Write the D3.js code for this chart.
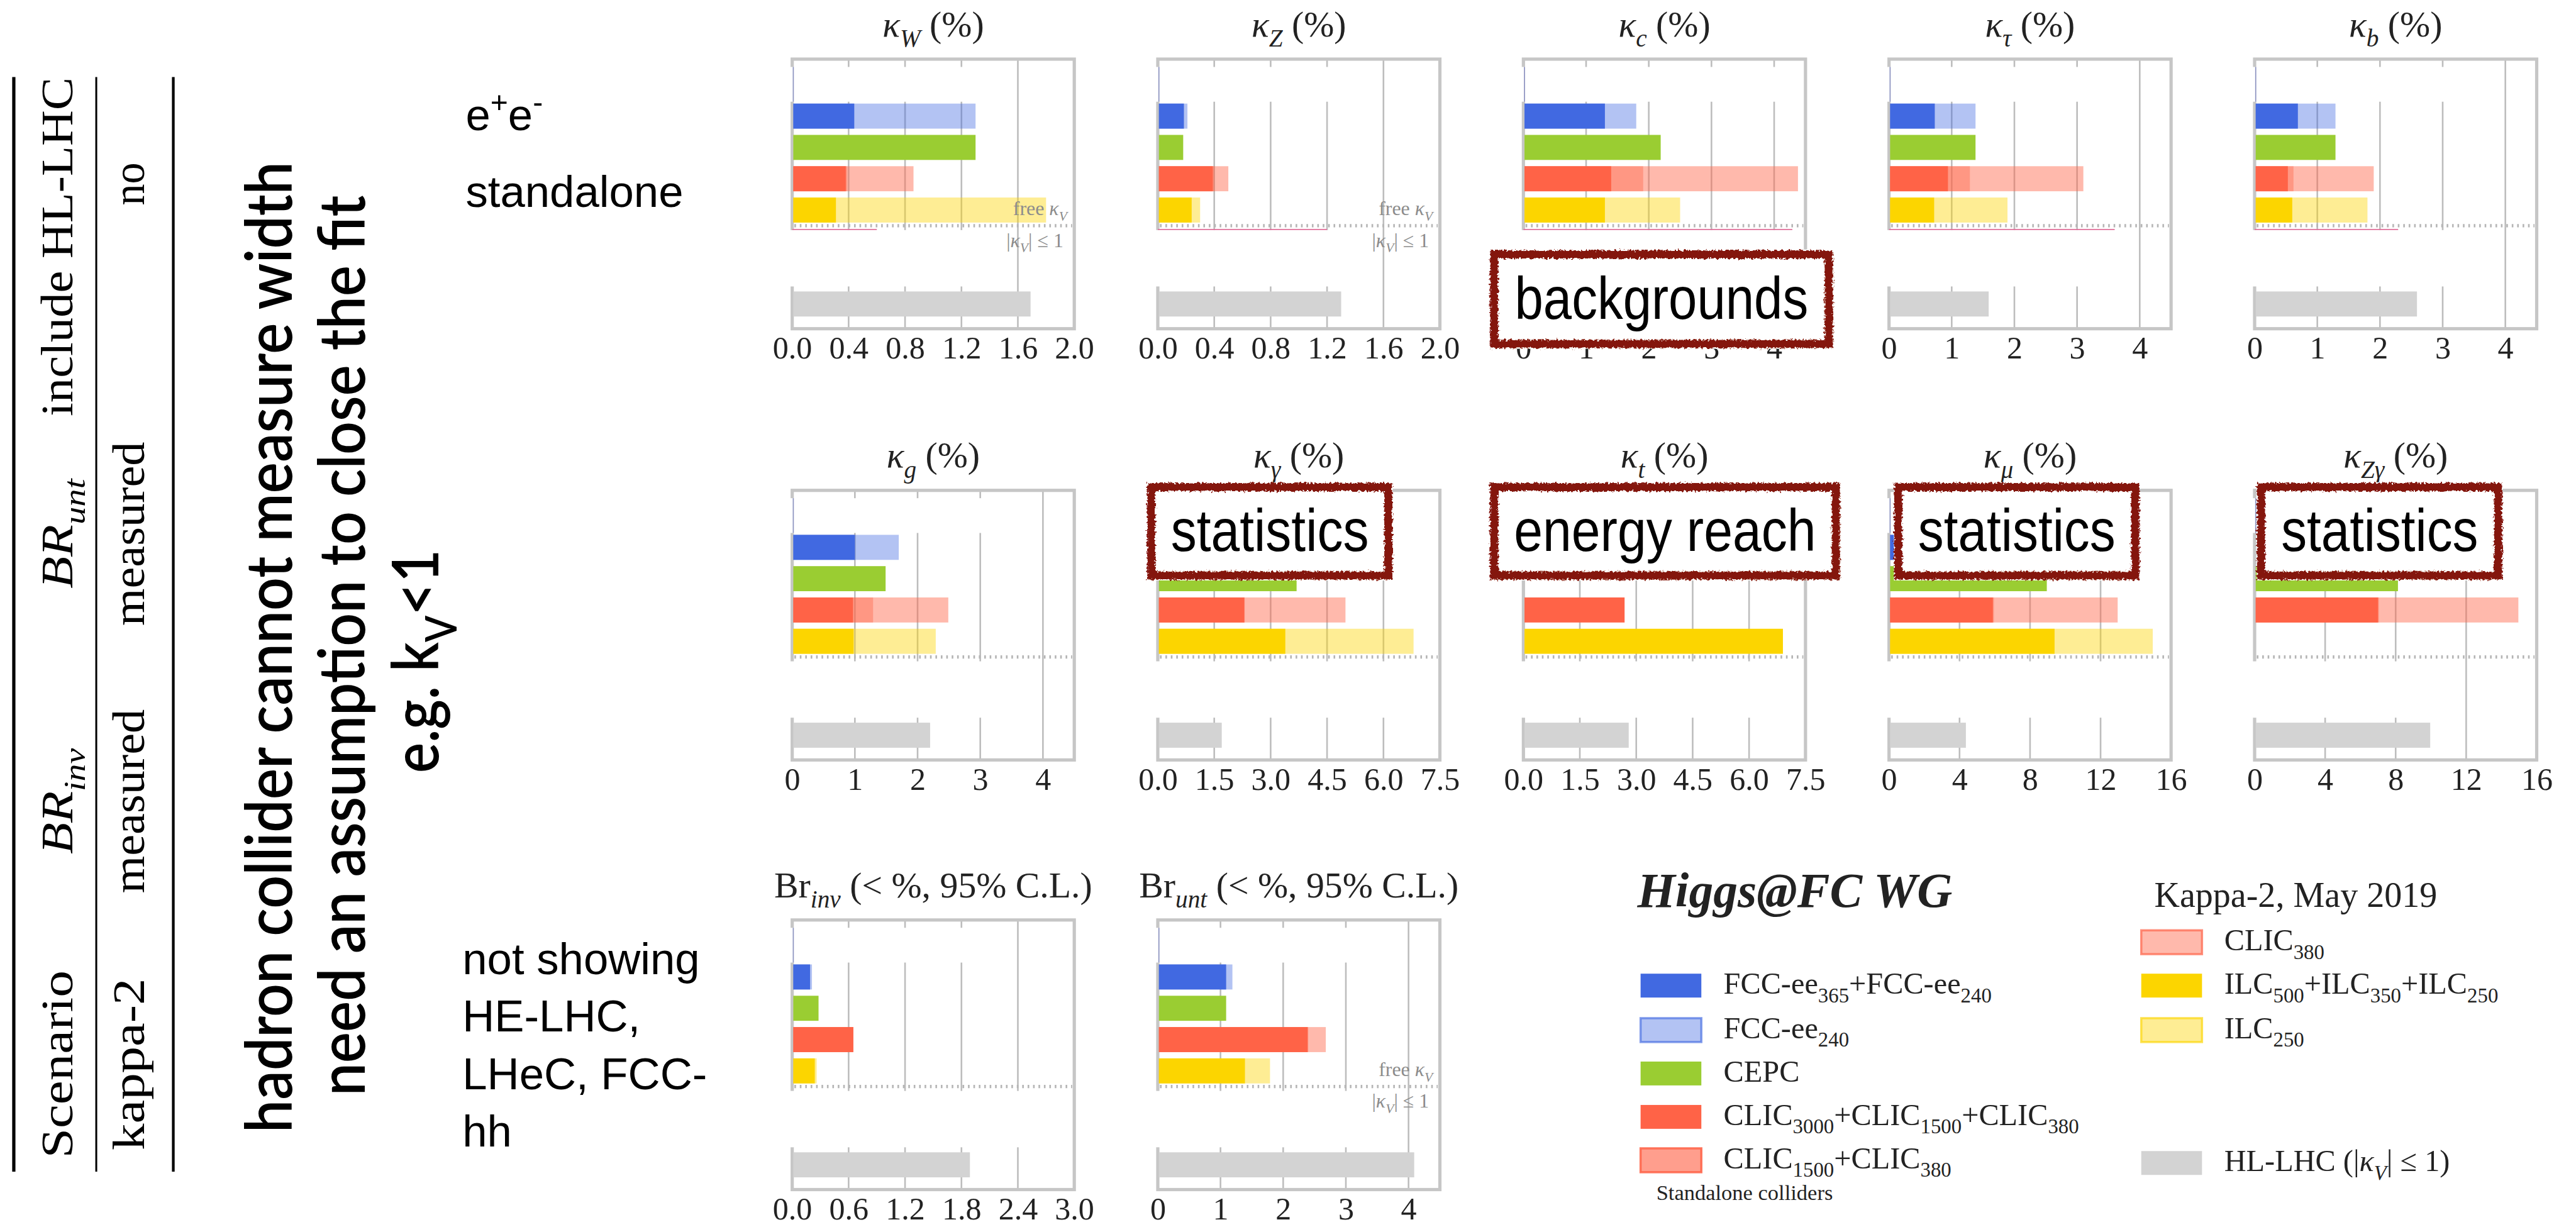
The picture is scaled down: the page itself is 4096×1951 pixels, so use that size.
<!DOCTYPE html>
<html>
<head>
<meta charset="utf-8">
<script src="https://cdn.jsdelivr.net/npm/d3@7"></script>
<style>
  html, body { margin: 0; padding: 0; background: #fff; overflow: hidden; }
</style>
</head>
<body>
<svg id="chart"></svg>
<script>
// ---------------------------------------------------------------
// Kappa-2 coupling precision, standalone e+e- colliders vs HL-LHC
// ---------------------------------------------------------------

// Panel headings: symbol, subscript, tail
const panelHead = ["κ", "κ", "κ", "κ", "κ", "κ", "κ", "κ", "κ", "κ", "Br", "Br"];
const panelSub  = ["W", "Z", "c", "τ", "b", "g", "γ", "t", "μ", "Zγ", "inv", "unt"];
const panelTail = [" (%)", " (%)", " (%)", " (%)", " (%)", " (%)", " (%)", " (%)", " (%)", " (%)",
                   " (< %, 95% C.L.)", " (< %, 95% C.L.)"];

// Axis ranges and tick labels
const axisMax = [2, 2, 4.5, 4.5, 4.5, 4.5, 7.5, 7.5, 16, 16, 3, 4.5];
const tickValues = [
  [0, 0.4, 0.8, 1.2, 1.6, 2.0],
  [0, 0.4, 0.8, 1.2, 1.6, 2.0],
  [0, 1, 2, 3, 4],
  [0, 1, 2, 3, 4],
  [0, 1, 2, 3, 4],
  [0, 1, 2, 3, 4],
  [0, 1.5, 3.0, 4.5, 6.0, 7.5],
  [0, 1.5, 3.0, 4.5, 6.0, 7.5],
  [0, 4, 8, 12, 16],
  [0, 4, 8, 12, 16],
  [0, 0.6, 1.2, 1.8, 2.4, 3.0],
  [0, 1, 2, 3, 4]
];
const tickDigits = [1, 1, 0, 0, 0, 0, 1, 1, 0, 0, 1, 0];

// Precision per collider (same panel order as above); null = not measured
const fccAll   = [0.44, 0.185, 1.30, 0.73, 0.69, 1.00, 3.9, null, 8.9, null, 0.19, 1.09];
const fcc240   = [1.30, 0.21, 1.80, 1.38, 1.29, 1.70, 4.7, null, 10.0, null, 0.21, 1.19];
const cepc     = [1.30, 0.18, 2.19, 1.38, 1.29, 1.49, 3.69, null, 8.95, 8.13, 0.28, 1.09];
const clicAll  = [0.38, 0.39, 1.40, 0.94, 0.53, 0.97, 2.30, 2.69, 5.89, 7.0, 0.65, 2.39];
const clic1500 = [0.39, 0.40, 1.91, 1.29, 0.62, 1.29, 2.31, null, 5.95, 7.05, 0.65, 2.40];
const clic380  = [0.86, 0.50, 4.38, 3.10, 1.90, 2.49, 4.99, null, 12.97, 14.96, 0.65, 2.68];
const ilcAll   = [0.31, 0.24, 1.30, 0.72, 0.60, 0.98, 3.39, 6.90, 9.39, null, 0.24, 1.39];
const ilc250   = [1.80, 0.30, 2.50, 1.89, 1.80, 2.29, 6.80, null, 14.96, null, 0.26, 1.79];
const hlLhc    = [1.69, 1.30, null, 1.59, 2.59, 2.20, 1.70, 2.80, 4.36, 9.96, 1.89, 4.09];

// Extent of the blanked-out rows (other hadron-collider results) per panel
const blankTop = [1.4, 1.4, 4.4, 3.5, 3.5, 3.5, 7.2, 7.2, 15, 15, 2.1, 3.5];
const blankLow = [1.4, 1.4, 4.4, 3.95, 3.05, 3.5, 7.2, 7.3, 15, 10, 2.58, 3.05];
// Leftover edge line just under the separator
const edgeLine = [0.6, 1.2, 4.29, 3.6, 2.29, null, null, null, null, null, null, null];
// Panels carrying the "free κV / |κV| ≤ 1" note
const notePanels = [0, 1, 11];

// ---------------------------------------------------------------
const W = 4748, H = 2262;
const SERIF = "'Liberation Serif','Times New Roman',Times,serif";
const SANS = "'Liberation Sans',Arial,Helvetica,sans-serif";
const NARROW = "'Liberation Sans Narrow','Arial Narrow','Liberation Sans',Arial,sans-serif";
const HUMANIST = "Lato,'Open Sans','Noto Sans',sans-serif";

const svg = d3.select("#chart")
  .attr("width", 4096).attr("height", 1951)
  .attr("viewBox", `0 0 ${W} ${H}`);
svg.append("rect").attr("width", W).attr("height", H).attr("fill", "#fff");

const defs = svg.append("defs");
const rough = defs.append("filter").attr("id", "rough")
  .attr("x", "-5%").attr("y", "-15%").attr("width", "110%").attr("height", "130%");
rough.append("feTurbulence").attr("type", "fractalNoise")
  .attr("baseFrequency", "0.25").attr("numOctaves", 3).attr("seed", 11).attr("result", "noise");
rough.append("feDisplacementMap").attr("in", "SourceGraphic").attr("in2", "noise")
  .attr("scale", 10).attr("xChannelSelector", "R").attr("yChannelSelector", "G");

// Text with sub/superscripts: parts = [{t, sub, sup, it}]
function rich(sel, parts, fs) {
  let shift = 0;
  parts.forEach(p => {
    const target = p.sub ? 0.28 * fs : p.sup ? -0.4 * fs : 0;
    const ts = sel.append("tspan").text(p.t).attr("dy", target - shift);
    if (p.sub || p.sup) ts.attr("font-size", fs * 0.68);
    if (p.it) ts.attr("font-style", "italic");
    shift = target;
  });
}

// ---------------------------------------------------------------
// Panels
const colLeft = [1460, 2134, 2808, 3482, 4156];
const rowTop = [109, 904, 1696];
const PW = 520, PH = 497;

const seriesLayers = [
  { vals: fcc240,   row: 0, color: "#4169e1", op: 0.40 },
  { vals: fccAll,   row: 0, color: "#4169e1", op: 1 },
  { vals: cepc,     row: 1, color: "#9acd32", op: 1 },
  { vals: clic380,  row: 2, color: "#ff6347", op: 0.45 },
  { vals: clic1500, row: 2, color: "#ff6347", op: 0.40 },
  { vals: clicAll,  row: 2, color: "#ff6347", op: 1 },
  { vals: ilc250,   row: 3, color: "#fcd500", op: 0.42 },
  { vals: ilcAll,   row: 3, color: "#fcd500", op: 1 },
  { vals: hlLhc,    row: 6, color: "#d3d3d3", op: 1 }
];

panelSub.forEach((sub, i) => {
  const r = i < 5 ? 0 : (i < 10 ? 1 : 2);
  const c = i < 10 ? i % 5 : i - 10;
  const left = colLeft[c], top = rowTop[r];
  const x = d3.scaleLinear().domain([0, axisMax[i]]).range([left, left + PW]);
  const y = d3.scaleLinear().domain([-1.82, 6.79]).range([top, top + PH]);
  const g = svg.append("g");

  // gridlines
  g.selectAll("line.grid")
    .data(tickValues[i].filter(v => v > 0 && v < axisMax[i] - 1e-9))
    .join("line").attr("class", "grid")
    .attr("x1", d => x(d)).attr("x2", d => x(d))
    .attr("y1", top).attr("y2", top + PH)
    .attr("stroke", "#bdbdbd").attr("stroke-width", 3);

  // frame
  g.append("rect")
    .attr("x", left).attr("y", top).attr("width", PW).attr("height", PH)
    .attr("fill", "none").attr("stroke", "#c6c6c6").attr("stroke-width", 6);

  // blanked rows
  [[-1.57, -0.46, blankTop[i]], [3.64, 5.44, blankLow[i]]].forEach(([a, b, ext]) => {
    g.append("rect")
      .attr("x", left - 5).attr("y", y(a))
      .attr("width", x(ext) - left + 5).attr("height", y(b) - y(a))
      .attr("fill", "#fff");
  });
  g.append("line")
    .attr("x1", left + 2).attr("x2", left + 2)
    .attr("y1", y(-1.57)).attr("y2", y(-0.46))
    .attr("stroke", "#2d3a8c").attr("stroke-width", 2).attr("opacity", 0.55);

  // dotted separator between "free κV" and "|κV| ≤ 1" sections
  g.append("line")
    .attr("x1", left + 4).attr("x2", left + PW - 4)
    .attr("y1", y(3.5)).attr("y2", y(3.5))
    .attr("stroke", "#b5b5b5").attr("stroke-width", 6)
    .attr("stroke-dasharray", "3 7");

  if (edgeLine[i] != null) {
    g.append("line")
      .attr("x1", x(0)).attr("x2", x(edgeLine[i]))
      .attr("y1", y(3.62)).attr("y2", y(3.62))
      .attr("stroke", "#e0709a").attr("stroke-width", 2.2);
  }

  // bars
  seriesLayers.forEach(s => {
    const v = s.vals[i];
    if (v == null) return;
    g.append("rect")
      .attr("x", x(0) + 2).attr("y", y(s.row - 0.4))
      .attr("width", Math.max(0, x(v) - x(0) - 2))
      .attr("height", y(s.row + 0.4) - y(s.row - 0.4))
      .attr("fill", s.color).attr("fill-opacity", s.op);
  });

  // notes
  if (notePanels.includes(i)) {
    const nt = g.append("text")
      .attr("x", left + PW - 13).attr("y", y(3.5) - 19)
      .attr("text-anchor", "end").attr("font-family", SERIF)
      .attr("font-size", 37).attr("fill", "#8c8c8c");
    rich(nt, [{ t: "free " }, { t: "κ", it: true }, { t: "V", sub: true, it: true }], 37);
    const nb = g.append("text")
      .attr("x", left + PW - 20).attr("y", y(3.5) + 39)
      .attr("text-anchor", "end").attr("font-family", SERIF)
      .attr("font-size", 37).attr("fill", "#8c8c8c");
    rich(nb, [{ t: "|" }, { t: "κ", it: true }, { t: "V", sub: true, it: true }, { t: "| ≤ 1" }], 37);
  }

  // x axis
  const axis = d3.axisBottom(x)
    .tickValues(tickValues[i])
    .tickFormat(d => d.toFixed(tickDigits[i]))
    .tickSize(0).tickPadding(14);
  const ax = g.append("g").attr("transform", `translate(0,${top + PH})`).call(axis);
  ax.select(".domain").remove();
  ax.selectAll("text")
    .attr("font-family", SERIF).attr("font-size", 58).attr("fill", "#222");

  // title
  const tt = g.append("text")
    .attr("x", left + PW / 2).attr("y", top - 42)
    .attr("text-anchor", "middle").attr("font-family", SERIF)
    .attr("font-size", 67).attr("fill", "#222");
  const isKappa = panelHead[i] === "κ";
  rich(tt, [
    { t: panelHead[i], it: isKappa },
    { t: sub, sub: true, it: true },
    { t: panelTail[i] }
  ], 67);
});

// ---------------------------------------------------------------
// Stamped remarks
const stamps = [
  { label: "backgrounds",  x0: 2746, x1: 3379, y0: 460, y1: 643, len: 541 },
  { label: "statistics",   x0: 2114, x1: 2567, y0: 889, y1: 1070, len: 365 },
  { label: "energy reach", x0: 2746, x1: 3392, y0: 889, y1: 1070, len: 557 },
  { label: "statistics",   x0: 3491, x1: 3944, y0: 889, y1: 1070, len: 364 },
  { label: "statistics",   x0: 4160, x1: 4613, y0: 889, y1: 1070, len: 363 }
];
stamps.forEach(s => {
  const g = svg.append("g");
  g.append("rect")
    .attr("x", s.x0).attr("y", s.y0).attr("width", s.x1 - s.x0).attr("height", s.y1 - s.y0)
    .attr("fill", "#fff");
  g.append("rect")
    .attr("x", s.x0 + 8).attr("y", s.y0 + 9).attr("width", s.x1 - s.x0 - 16).attr("height", s.y1 - s.y0 - 18)
    .attr("fill", "none").attr("stroke", "#84140a").attr("stroke-width", 15)
    .attr("filter", "url(#rough)");
  g.append("text")
    .attr("x", (s.x0 + s.x1) / 2).attr("y", (s.y0 + s.y1) / 2 + 36)
    .attr("text-anchor", "middle").attr("font-family", NARROW)
    .attr("font-size", 110).attr("fill", "#000")
    .attr("textLength", s.len).attr("lengthAdjust", "spacingAndGlyphs")
    .text(s.label);
});

// ---------------------------------------------------------------
// Scenario table (rotated)
const tableLines = [
  { x: 25, w: 6 }, { x: 177, w: 3.5 }, { x: 319, w: 5 }
];
tableLines.forEach(l => {
  svg.append("line").attr("x1", l.x).attr("x2", l.x).attr("y1", 142).attr("y2", 2160)
    .attr("stroke", "#000").attr("stroke-width", l.w);
});
const tableCells = [
  { x: 133, y: 1962, len: 346, parts: [{ t: "Scenario" }] },
  { x: 133, y: 1477, len: 195, parts: [{ t: "BR", it: true }, { t: "inv", sub: true, it: true }] },
  { x: 133, y: 984,  len: 202, parts: [{ t: "BR", it: true }, { t: "unt", sub: true, it: true }] },
  { x: 133, y: 455,  len: 625, parts: [{ t: "include HL-LHC" }] },
  { x: 265, y: 1962, len: 317, parts: [{ t: "kappa-2" }] },
  { x: 265, y: 1477, len: 339, parts: [{ t: "measured" }] },
  { x: 265, y: 984,  len: 339, parts: [{ t: "measured" }] },
  { x: 265, y: 339,  len: 79,  parts: [{ t: "no" }] }
];
tableCells.forEach(cl => {
  const t = svg.append("text")
    .attr("x", cl.x).attr("y", cl.y)
    .attr("transform", `rotate(-90,${cl.x},${cl.y})`)
    .attr("text-anchor", "middle").attr("font-family", SERIF)
    .attr("font-size", 84).attr("fill", "#000")
    .attr("textLength", cl.len).attr("lengthAdjust", "spacingAndGlyphs");
  rich(t, cl.parts, 84);
});

// Remark on hadron colliders (rotated)
const remarks = [
  { x: 538, y: 1193, len: 1790, parts: [{ t: "hadron collider cannot measure width" }] },
  { x: 672, y: 1190, len: 1660, parts: [{ t: "need an assumption to close the fit" }] },
  { x: 808, y: 1219, len: 412,  parts: [{ t: "e.g. k" }, { t: "V", sub: true }, { t: "<1" }] }
];
remarks.forEach(rm => {
  const t = svg.append("text")
    .attr("x", rm.x).attr("y", rm.y)
    .attr("transform", `rotate(-90,${rm.x},${rm.y})`)
    .attr("text-anchor", "middle").attr("font-family", HUMANIST)
    .attr("font-weight", 600).attr("font-size", 118).attr("fill", "#000")
    .attr("textLength", rm.len).attr("lengthAdjust", "spacingAndGlyphs");
  rich(t, rm.parts, 118);
});

// Row captions
const ee = svg.append("text").attr("x", 858).attr("y", 240)
  .attr("font-family", SANS).attr("font-size", 82).attr("fill", "#000");
rich(ee, [{ t: "e" }, { t: "+", sup: true }, { t: "e" }, { t: "-", sup: true }], 82);
svg.append("text").attr("x", 858).attr("y", 382)
  .attr("font-family", SANS).attr("font-size", 82).attr("fill", "#000").text("standalone");

const notShown = ["not showing", "HE-LHC,", "LHeC, FCC-", "hh"];
svg.append("g").selectAll("text").data(notShown).join("text")
  .attr("x", 852).attr("y", (d, k) => 1796 + k * 106)
  .attr("font-family", SANS).attr("font-size", 82).attr("fill", "#000")
  .text(d => d);

// ---------------------------------------------------------------
// Legend
svg.append("text").attr("x", 3018).attr("y", 1672)
  .attr("font-family", SERIF).attr("font-style", "italic").attr("font-weight", "bold")
  .attr("font-size", 90).attr("fill", "#222").text("Higgs@FC WG");
svg.append("text").attr("x", 3971).attr("y", 1672)
  .attr("font-family", SERIF).attr("font-size", 65).attr("fill", "#222").text("Kappa-2, May 2019");

const legendLabels = [
  [{ t: "FCC-ee" }, { t: "365", sub: true }, { t: "+FCC-ee" }, { t: "240", sub: true }],
  [{ t: "FCC-ee" }, { t: "240", sub: true }],
  [{ t: "CEPC" }],
  [{ t: "CLIC" }, { t: "3000", sub: true }, { t: "+CLIC" }, { t: "1500", sub: true }, { t: "+CLIC" }, { t: "380", sub: true }],
  [{ t: "CLIC" }, { t: "1500", sub: true }, { t: "+CLIC" }, { t: "380", sub: true }],
  [{ t: "CLIC" }, { t: "380", sub: true }],
  [{ t: "ILC" }, { t: "500", sub: true }, { t: "+ILC" }, { t: "350", sub: true }, { t: "+ILC" }, { t: "250", sub: true }],
  [{ t: "ILC" }, { t: "250", sub: true }],
  [{ t: "HL-LHC (|" }, { t: "κ", it: true }, { t: "V", sub: true, it: true }, { t: "| ≤ 1)" }]
];
const legendColor   = ["#4169e1", "#4169e1", "#9acd32", "#ff6347", "#ff6347", "#ff6347", "#fcd500", "#fcd500", "#d3d3d3"];
const legendOpacity = [1, 0.4, 1, 1, 0.62, 0.45, 1, 0.42, 1];
const legendPos = [
  [3024, 1795], [3024, 1877], [3024, 1957], [3024, 2037], [3024, 2117],
  [3947, 1715], [3947, 1795], [3947, 1877], [3947, 2122]
];
legendLabels.forEach((parts, k) => {
  const [lx, ly] = legendPos[k];
  const g = svg.append("g");
  const sw = g.append("rect").attr("x", lx).attr("y", ly).attr("width", 112).attr("height", 44)
    .attr("fill", legendColor[k]).attr("fill-opacity", legendOpacity[k]);
  if (legendOpacity[k] < 1) {
    sw.attr("stroke", legendColor[k]).attr("stroke-opacity", Math.min(1, legendOpacity[k] + 0.25))
      .attr("stroke-width", 4);
  }
  const t = g.append("text").attr("x", lx + 153).attr("y", ly + 37)
    .attr("font-family", SERIF).attr("font-size", 56).attr("fill", "#222");
  rich(t, parts, 56);
});
svg.append("text").attr("x", 3053).attr("y", 2212)
  .attr("font-family", SERIF).attr("font-size", 40).attr("fill", "#222").text("Standalone colliders");
</script>
</body>
</html>
